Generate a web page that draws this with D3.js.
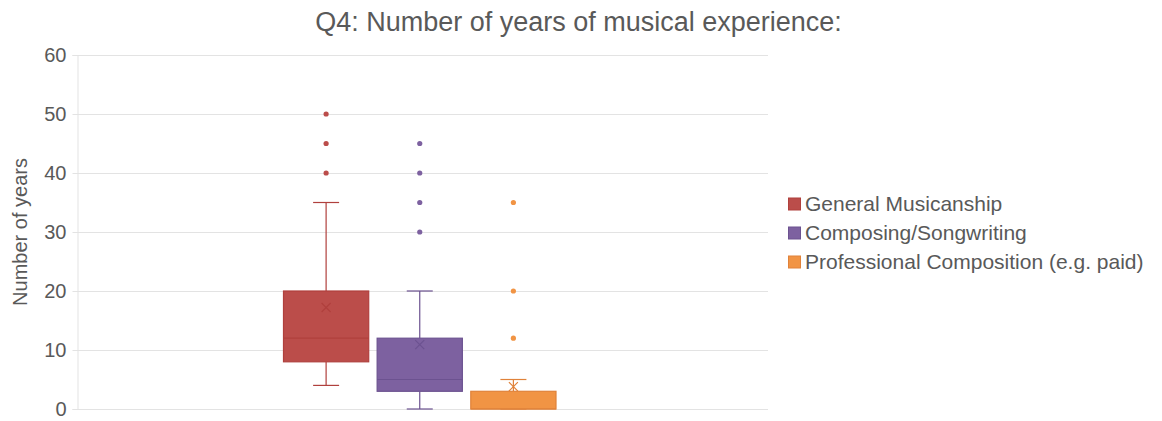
<!DOCTYPE html>
<html>
<head>
<meta charset="utf-8">
<script src="https://cdn.jsdelivr.net/npm/d3@7"></script>
<style>
  html, body { margin: 0; padding: 0; background: #fff; }
  svg { display: block; font-family: "Liberation Sans", Arial, Helvetica, sans-serif; }
</style>
</head>
<body>
<svg id="chart" width="1162" height="421"></svg>
<script>
// Series and their box-plot summaries (years of experience)
const series = ["General Musicanship", "Composing/Songwriting", "Professional Composition (e.g. paid)"];
const colors = ["#bb4d4a", "#7d61a0", "#f19444"];
const strokes = ["#b0403d", "#6c5290", "#e0823a"];
const whiskerLow = [4, 0, 0];
const q1 = [8, 3, 0];
const median = [12, 5, 0];
const q3 = [20, 12, 3];
const whiskerHigh = [35, 20, 5];
const mean = [17.2, 10.9, 3.8];
const outliers = [[40, 45, 50], [30, 35, 40, 45], [12, 20, 35]];
const yTicks = [0, 10, 20, 30, 40, 50, 60];

const svg = d3.select("#chart");
const W = 1162, H = 421;
const plotL = 77, plotR = 768;
const plotT = 55, plotB = 409;

const y = d3.scaleLinear().domain([0, 60]).range([plotB, plotT]);
const x = d3.scaleBand().domain(series).range([283.5, 556]).paddingInner(0.09);

// Title
svg.append("text")
  .attr("x", 578.5)
  .attr("y", 31)
  .attr("text-anchor", "middle")
  .attr("font-size", 27)
  .attr("fill", "#595959")
  .text("Q4: Number of years of musical experience:");

// Gridlines
svg.append("g")
  .selectAll("line").data(yTicks).join("line")
  .attr("x1", plotL).attr("x2", plotR)
  .attr("y1", d => y(d) + 0.5).attr("y2", d => y(d) + 0.5)
  .attr("stroke", "#e3e3e3").attr("stroke-width", 1);

// Y axis
const yAxis = d3.axisLeft(y).tickValues(yTicks).tickSize(5).tickPadding(6);
const gy = svg.append("g").attr("transform", `translate(${plotL + 0.5},0)`).call(yAxis);
gy.select(".domain").attr("stroke", "#e3e3e3");
gy.selectAll(".tick line").attr("stroke", "#e3e3e3");
gy.selectAll(".tick text").attr("font-size", 20).attr("fill", "#595959")
  .attr("font-family", "Liberation Sans, Arial, sans-serif");

// Y axis title
svg.append("text")
  .attr("transform", `translate(27,${(plotT + plotB) / 2}) rotate(-90)`)
  .attr("text-anchor", "middle")
  .attr("font-size", 20)
  .attr("fill", "#595959")
  .text("Number of years");

// Boxes
const capW = 26;
const boxes = svg.append("g").selectAll("g").data(series).join("g");
boxes.each(function (s, i) {
  const g = d3.select(this);
  const cx = x(s) + x.bandwidth() / 2;
  const bw = x.bandwidth();
  // whisker lines
  g.append("line").attr("x1", cx).attr("x2", cx)
    .attr("y1", y(whiskerHigh[i])).attr("y2", y(q3[i]))
    .attr("stroke", strokes[i]).attr("stroke-width", 1.2);
  g.append("line").attr("x1", cx).attr("x2", cx)
    .attr("y1", y(q1[i])).attr("y2", y(whiskerLow[i]))
    .attr("stroke", strokes[i]).attr("stroke-width", 1.2);
  [whiskerHigh[i], whiskerLow[i]].forEach(v => {
    g.append("line").attr("x1", cx - capW / 2).attr("x2", cx + capW / 2)
      .attr("y1", y(v)).attr("y2", y(v))
      .attr("stroke", strokes[i]).attr("stroke-width", 1.2);
  });
  // box
  g.append("rect").attr("x", x(s)).attr("width", bw)
    .attr("y", y(q3[i])).attr("height", Math.max(0, y(q1[i]) - y(q3[i])))
    .attr("fill", colors[i]).attr("stroke", strokes[i]).attr("stroke-width", 1.2);
  // median
  g.append("line").attr("x1", x(s)).attr("x2", x(s) + bw)
    .attr("y1", y(median[i])).attr("y2", y(median[i]))
    .attr("stroke", strokes[i]).attr("stroke-width", 1.2);
  // mean marker
  const m = 4.5, my = y(mean[i]);
  g.append("path")
    .attr("d", `M${cx - m},${my - m}L${cx + m},${my + m}M${cx - m},${my + m}L${cx + m},${my - m}`)
    .attr("stroke", strokes[i]).attr("stroke-width", 1.2).attr("fill", "none");
  // outliers
  g.selectAll("circle").data(outliers[i]).join("circle")
    .attr("cx", cx).attr("cy", d => y(d)).attr("r", 2.6)
    .attr("fill", colors[i]);
});

// Legend
const legend = svg.append("g").attr("transform", "translate(788,204)");
const items = legend.selectAll("g").data(series).join("g")
  .attr("transform", (d, i) => `translate(0,${i * 29})`);
items.append("rect").attr("x", 0.5).attr("y", -6).attr("width", 12).attr("height", 12)
  .attr("fill", (d, i) => colors[i]).attr("stroke", (d, i) => strokes[i]);
items.append("text").attr("x", 17).attr("y", 0).attr("dy", "0.35em")
  .attr("font-size", 21).attr("fill", "#595959").text(d => d);
</script>
</body>
</html>
